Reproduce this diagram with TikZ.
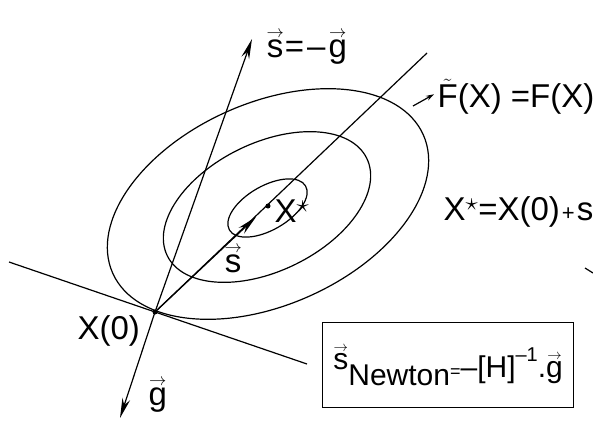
\documentclass[tikz,border=0pt]{standalone}
\usepackage{fontspec}
\setmainfont{Liberation Sans}
\usetikzlibrary{arrows.meta}
\newcommand{\vc}[1]{$\stackrel{\scriptscriptstyle\rightarrow}{\mbox{#1}}$}
\tikzset{lbl/.style={font=\fontsize{33}{36}\selectfont,inner sep=0pt},
	boxlbl/.style={font=\fontsize{30}{32}\selectfont,inner sep=0pt},
	ar/.style={-{Stealth[length=20pt,width=8pt]}},
	pnt/.style={circle,fill,inner sep=0pt,minimum size=5pt}}

\begin{document}
\begin{tikzpicture}[x=1pt,y=-1pt,line width=1.2pt]
	\useasboundingbox (0,0) rectangle (593,423);
	\coordinate (x0) at (155,312);
	\coordinate (xs) at (268,206);
	\coordinate (sup) at (252,39);
	\coordinate (gdn) at (120,418);
	\coordinate (nend) at (427,53);
	\coordinate (shead) at (256,217);
	\coordinate (t1) at (9,262);
	\coordinate (t2) at (307,364);
	\coordinate (fa) at (413,106);
	\coordinate (d1) at (585,268);
	\coordinate (d2) at (593,273);
	\draw[rotate around={24:(268,204)}] (268,204) ellipse [x radius=170pt,y radius=101pt];
	\draw[rotate around={26:(267,207)}] (267,207) ellipse [x radius=111pt,y radius=64pt];
	\draw[rotate around={30:(267.5,208)}] (267.5,208) ellipse [x radius=44pt,y radius=22pt];
	\draw (t1) -- (t2);
	\draw (x0) -- (nend);
	\draw[ar] (x0) -- (shead);
	\draw[ar] (x0) -- (sup);
	\draw[ar] (x0) -- (gdn);
	\node[pnt] (p0) at (x0) {};
	\node[pnt] (ps) at (xs) {};
	\node[lbl,anchor=base west] (sgl) at (266,57) {\vc{s}\hspace{1pt}=\hspace{3pt}--\hspace{3pt}\vc{g}};
	\node[lbl,anchor=base west] (fl) at (437,107) {$\tilde{\mbox{F}}$(X) =F(X)};
	\node[lbl,anchor=base west] (xsl) at (443,220) {X$^{\star}$=X(0)\hspace{2pt}{\fontsize{22}{22}\selectfont+}\hspace{2pt}s};
	\node[lbl,anchor=base west] (x0l) at (77,339) {X(0)};
	\node[lbl,anchor=base west] (sl) at (224,272) {\vc{s}};
	\node[lbl,anchor=base west] (gl) at (148,405) {\vc{g}};
	\node[lbl,anchor=base west] (xl) at (274,222) {X$^{\star}$};
	\node[draw,boxlbl,anchor=north west,minimum width=251pt,minimum height=85pt,line width=1.2pt] (nb) at (322,322)
		{\vc{s}\raisebox{-16pt}{Newton}\raisebox{-8pt}{{\fontsize{18}{18}\selectfont=}--[H]\raisebox{16pt}{\fontsize{20}{20}\selectfont --1}.\vc{g}}};
	\draw[-{Stealth[length=8pt,width=5pt]}] (fa) -- ([xshift=-3pt,yshift=2pt]fl.west);
	\draw (d1) -- (d2);
\end{tikzpicture}
\end{document}
